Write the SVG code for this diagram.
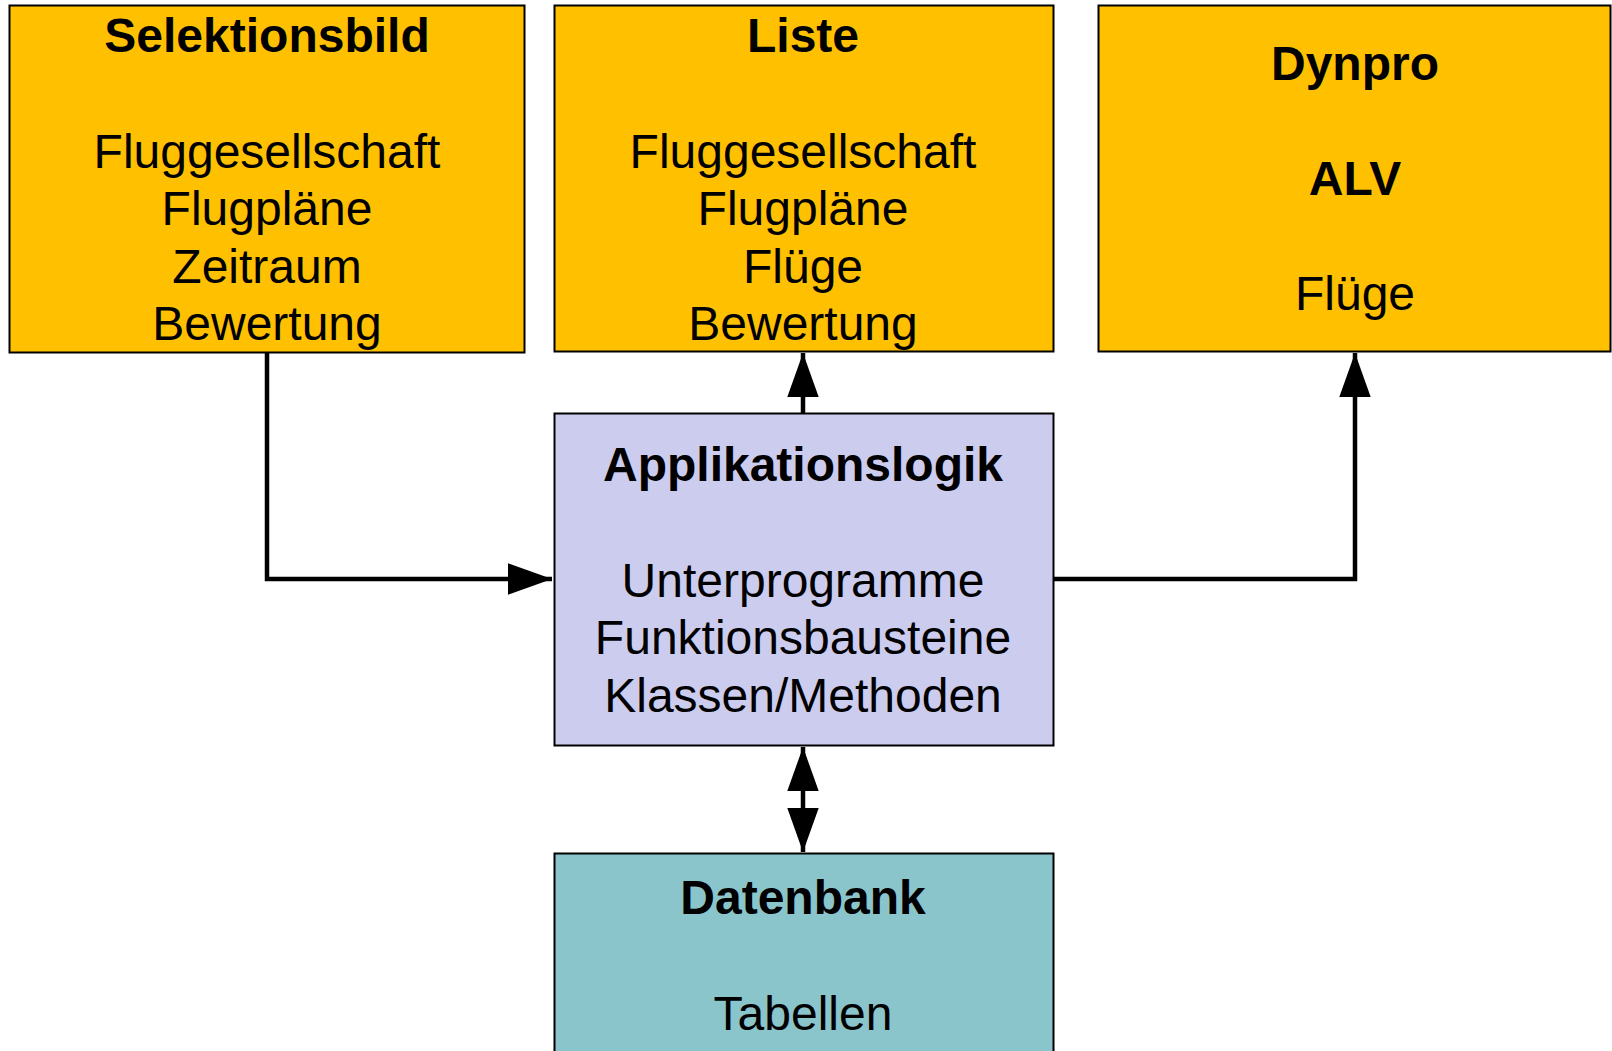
<svg xmlns="http://www.w3.org/2000/svg" width="1612" height="1051" viewBox="0 0 1612 1051">
  <style>
    .box { stroke: #000; stroke-width: 2; }
    .ui { fill: #FFC000; }
    .logic { fill: #CCCCEE; }
    .db { fill: #8BC5CC; }
    text { font-family: "Liberation Sans", Arial, sans-serif; font-size: 48px; fill: #000; text-anchor: middle; }
    .title { font-weight: bold; }
    .conn { fill: none; stroke: #000; stroke-width: 4.5; stroke-linejoin: miter; }
  </style>
  <defs>
    <marker id="arrow" markerUnits="userSpaceOnUse" markerWidth="44" markerHeight="32" viewBox="0 0 42 30" refX="42" refY="15" orient="auto-start-reverse">
      <path d="M0,0 L42,15 L0,30 Z" fill="#000"/>
    </marker>
  </defs>

  <g id="connectors">
    <path class="conn" d="M267,353 V579 H552" marker-end="url(#arrow)"/>
    <path class="conn" d="M803,413 V353" marker-end="url(#arrow)"/>
    <path class="conn" d="M1053,579 H1355 V353" marker-end="url(#arrow)"/>
    <path class="conn" d="M803,747 V852" marker-start="url(#arrow)" marker-end="url(#arrow)"/>
  </g>

  <g id="selektionsbild">
    <rect class="box ui" x="9.5" y="5.5" width="515" height="347"/>
    <text class="title" x="267" y="52">Selektionsbild</text>
    <text x="267" y="168">Fluggesellschaft</text>
    <text x="267" y="225">Flugpläne</text>
    <text x="267" y="283">Zeitraum</text>
    <text x="267" y="340">Bewertung</text>
  </g>

  <g id="liste">
    <rect class="box ui" x="554.5" y="5.5" width="499" height="346"/>
    <text class="title" x="803" y="52">Liste</text>
    <text x="803" y="168">Fluggesellschaft</text>
    <text x="803" y="225">Flugpläne</text>
    <text x="803" y="283">Flüge</text>
    <text x="803" y="340">Bewertung</text>
  </g>

  <g id="dynpro">
    <rect class="box ui" x="1098.5" y="5.5" width="512" height="346"/>
    <text class="title" x="1355" y="80">Dynpro</text>
    <text class="title" x="1355" y="195">ALV</text>
    <text x="1355" y="310">Flüge</text>
  </g>

  <g id="applikationslogik">
    <rect class="box logic" x="554.5" y="413.5" width="499" height="332"/>
    <text class="title" x="803" y="481">Applikationslogik</text>
    <text x="803" y="597">Unterprogramme</text>
    <text x="803" y="654">Funktionsbausteine</text>
    <text x="803" y="712">Klassen/Methoden</text>
  </g>

  <g id="datenbank">
    <rect class="box db" x="554.5" y="853.5" width="499" height="210"/>
    <text class="title" x="803" y="914">Datenbank</text>
    <text x="803" y="1030">Tabellen</text>
  </g>
</svg>
